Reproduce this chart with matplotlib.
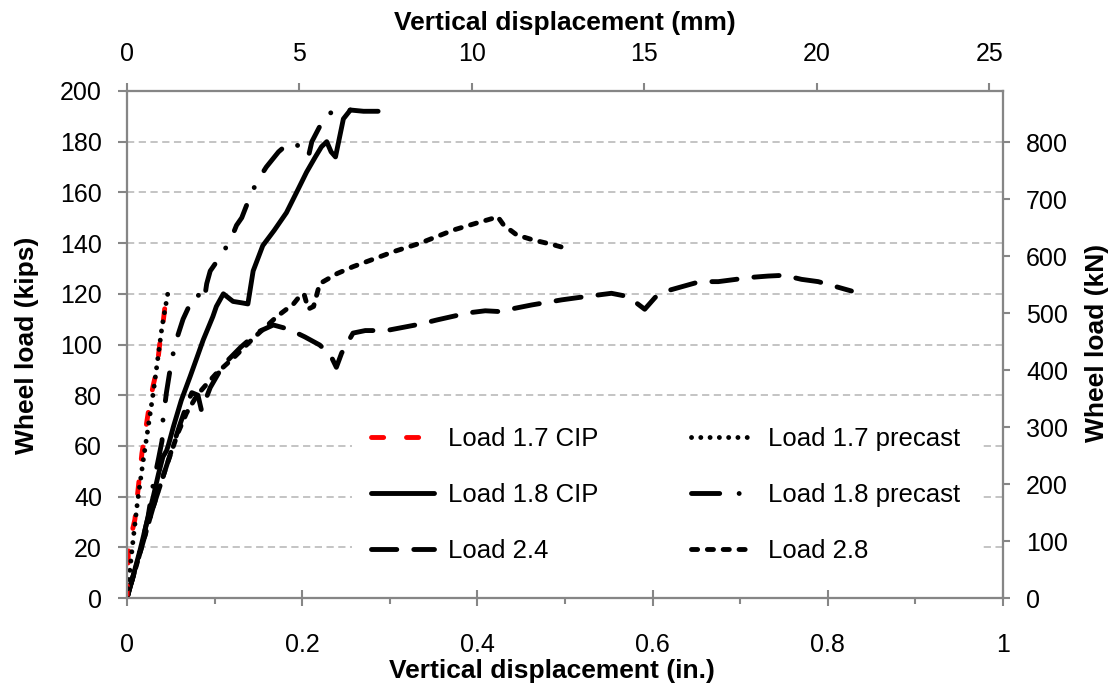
import numpy as np
import matplotlib
matplotlib.use("Agg")
import matplotlib.pyplot as plt
from matplotlib.ticker import MultipleLocator

plt.rcParams["font.family"] = ["Liberation Sans", "DejaVu Sans"]

# ============================================================
# Data (x in inches, y in kips)
# ============================================================
x_17_cip = [0, 0.0015, 0.005, 0.009, 0.013, 0.017, 0.021, 0.026, 0.030, 0.034,
            0.038, 0.041, 0.043, 0.046, 0.049, 0.051, 0.049]
y_17_cip = [0, 17.7, 25, 31, 44, 57, 66, 77, 84, 90, 102, 108, 114, 118, 117, 116, 115]

x_17_pre = [0, 0.003, 0.007, 0.012, 0.018, 0.024, 0.030, 0.035, 0.040, 0.044, 0.047]
y_17_pre = [0, 10, 23, 38, 53, 67, 81, 94, 107, 115, 121]

x_18_cip = [0, 0.008, 0.015, 0.022, 0.030, 0.036, 0.041, 0.045, 0.047, 0.053, 0.062,
            0.072, 0.080, 0.087, 0.098, 0.102, 0.110, 0.121, 0.130, 0.138, 0.144,
            0.155, 0.168, 0.182, 0.195, 0.205, 0.215, 0.222, 0.228, 0.233, 0.238,
            0.247, 0.255]
y_18_cip = [0, 10, 19, 29, 40, 49, 55.7, 58, 60, 67.6, 78, 87.3, 95, 101.8, 111,
            115, 120, 117, 116.5, 116, 129, 139, 145, 152, 161, 168, 174, 178, 180,
            176, 174, 189, 192.5]

x_18_pre = [0, 0.008, 0.016, 0.024, 0.030, 0.036, 0.040, 0.041, 0.045, 0.051, 0.057,
            0.064, 0.072, 0.080, 0.085, 0.088, 0.091, 0.095, 0.107, 0.118, 0.125,
            0.131, 0.140, 0.148, 0.159, 0.173, 0.183, 0.190, 0.198, 0.207, 0.211,
            0.220, 0.228, 0.240, 0.255, 0.270, 0.300]
y_18_pre = [0, 10, 20, 32, 45, 55, 62, 70, 81, 94, 102.5, 110, 116, 120, 118, 117,
            124, 129, 135, 141, 147, 150, 158, 164, 170, 176, 179, 180, 177.5, 174,
            180, 186, 191, 192, 192.5, 192, 192]

x_24 = [0, 0.015, 0.030, 0.045, 0.060, 0.068, 0.074, 0.081, 0.085, 0.095, 0.110,
        0.130, 0.150, 0.167, 0.185, 0.203, 0.220, 0.232, 0.239, 0.245, 0.258, 0.272,
        0.296, 0.334, 0.354, 0.390, 0.409, 0.425, 0.443, 0.462, 0.496, 0.517, 0.553,
        0.572, 0.591, 0.603, 0.620, 0.654, 0.675, 0.713, 0.732, 0.750, 0.770, 0.789,
        0.827]
y_24 = [0, 18, 36, 52, 68, 76, 81, 80, 74, 83, 92, 99, 105, 107.7, 106, 103, 99.8,
        96, 91, 96.6, 104.5, 105.5, 105.5, 108, 109.7, 112.5, 113.3, 113, 114.3,
        115.6, 117.6, 118.6, 120.2, 118.9, 113.9, 118.6, 121.5, 124.8, 124.8, 126.5,
        127, 127.3, 125.7, 124.8, 121.1]

x_28 = [0, 0.015, 0.030, 0.045, 0.058, 0.068, 0.080, 0.090, 0.102, 0.123, 0.144,
        0.171, 0.190, 0.197, 0.202, 0.207, 0.213, 0.220, 0.240, 0.258, 0.280, 0.304,
        0.334, 0.373, 0.400, 0.418, 0.423, 0.430, 0.445, 0.464, 0.485, 0.505]
y_28 = [0, 18, 36, 52, 65, 73, 80, 84, 88.6, 95.2, 102.4, 111, 116, 119, 120, 114,
        115, 124, 128, 130.7, 133.5, 136.6, 139.9, 145.2, 148, 149.8, 150.5, 147.1,
        143.2, 141.2, 139.5, 137.6]

KIPS_TO_KN = 4.448
IN_TO_MM = 25.4
GRAY = "#868686"
TICK_FS = 18
TITLE_FS = 19

# ============================================================
# Figure
# ============================================================
fig, ax = plt.subplots(figsize=(11.12, 6.85), dpi=100)
fig.subplots_adjust(left=127 / 1112, right=1003 / 1112,
                    bottom=1 - 598 / 685, top=1 - 91 / 685)

lw = 3.5
common = dict(lw=lw, dash_capstyle="round", solid_capstyle="round")
l1, = ax.plot(x_17_cip, y_17_cip, color="red", dashes=(2.5, 4.7),
              label="Load 1.7 CIP", zorder=4, **common)
l2, = ax.plot(x_17_pre, y_17_pre, color="black", dashes=(0.01, 1.9),
              label="Load 1.7 precast", zorder=5, **common)
l3, = ax.plot(x_18_cip, y_18_cip, color="black", label="Load 1.8 CIP", **common)
l4, = ax.plot(x_18_pre, y_18_pre, color="black", dashes=(5.8, 4.0, 0.01, 4.0),
              label="Load 1.8 precast", **common)
l5, = ax.plot(x_24, y_24, color="black", dashes=(5.2, 3.5),
              label="Load 2.4", **common)
l6, = ax.plot(x_28, y_28, color="black", dashes=(1.26, 2.0),
              label="Load 2.8", **common)

ax.set_xlim(0, 1)
ax.set_ylim(0, 200)
ax.xaxis.set_minor_locator(MultipleLocator(0.1))
ax.yaxis.set_major_locator(MultipleLocator(20))
ax.set_xticks([0, 0.2, 0.4, 0.6, 0.8, 1.0])
ax.set_xticklabels(["0", "0.2", "0.4", "0.6", "0.8", "1"])
ax.grid(True, axis="y", color="#BFBFBF", lw=1.3, ls=(0, (4, 2.5)))
ax.tick_params(axis="x", which="major", direction="inout", length=11, width=1.5,
               color=GRAY, labelsize=TICK_FS, pad=19.5)
ax.tick_params(axis="x", which="minor", direction="out", length=4, width=1.5,
               color=GRAY)
ax.tick_params(axis="y", direction="out", length=6.5, width=1.5, color=GRAY,
               labelsize=TICK_FS, pad=11.5)

# --- secondary scales: mm on top, kN on right ---
ax_top = ax.twiny()
ax_top.set_xlim(0, IN_TO_MM)
ax_top.xaxis.set_major_locator(MultipleLocator(5))
ax_top.tick_params(axis="x", direction="out", length=6, width=1.5, color=GRAY,
                   labelsize=TICK_FS, pad=12)

ax_right = ax.twinx()
ax_right.set_ylim(0, 200 * KIPS_TO_KN)
ax_right.set_yticks(np.arange(0, 900, 100))
ax_right.tick_params(axis="y", direction="out", length=5, width=1.5, color=GRAY,
                     labelsize=TICK_FS, pad=11.5)

for a in (ax, ax_top, ax_right):
    for sp in a.spines.values():
        sp.set_color(GRAY)
        sp.set_linewidth(1.5)

# --- axis titles ---
fig.text(552 / 1112, 1 - 671 / 685, "Vertical displacement (in.)",
         fontsize=TITLE_FS, fontweight="bold", ha="center", va="center")
fig.text(565 / 1112, 1 - 23 / 685, "Vertical displacement (mm)",
         fontsize=TITLE_FS, fontweight="bold", ha="center", va="center")
fig.text(27 / 1112, 1 - 345 / 685, "Wheel load (kips)", rotation=90,
         fontsize=TITLE_FS, fontweight="bold", ha="center", va="center")
fig.text(1097 / 1112, 1 - 343 / 685, "Wheel load (kN)", rotation=90,
         fontsize=TITLE_FS, fontweight="bold", ha="center", va="center")

# --- legend (column-first: CIP/2.4 left, precast/2.8 right) ---
leg = ax_right.legend(handles=[l1, l3, l5, l2, l4, l6], ncol=2, loc="center",
                      bbox_to_anchor=(0.615, 0.203), fontsize=18.5,
                      handlelength=2.45, handletextpad=0.55, columnspacing=3.6,
                      labelspacing=1.25, frameon=True, fancybox=False,
                      borderpad=0.75)
leg.get_frame().set_facecolor("white")
leg.get_frame().set_edgecolor("none")
leg.get_frame().set_alpha(1.0)

fig.savefig("out.png", dpi=100)
